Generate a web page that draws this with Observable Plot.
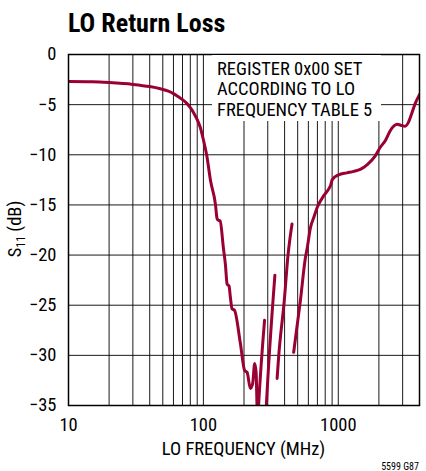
<!DOCTYPE html>
<html>
<head>
<meta charset="utf-8">
<script src="https://cdn.jsdelivr.net/npm/d3@7"></script>
<script src="https://cdn.jsdelivr.net/npm/@observablehq/plot@0.6"></script>
<style>
  body { margin: 0; background: #fff; }
  #chart svg { display: block; }
</style>
</head>
<body>
<div id="chart"></div>
<script>
// ---- Data ----
const title = "LO Return Loss";
const noteLines = ["REGISTER 0x00 SET", "ACCORDING TO LO", "FREQUENCY TABLE 5"];
const xLabel = "LO FREQUENCY (MHz)";
const figCode = "5599 G87";

const xTickValues = [10, 100, 1000];
const yTickValues = [0, -5, -10, -15, -20, -25, -30, -35];
const xGridValues = [10, 20, 30, 40, 50, 60, 70, 80, 90,
                     100, 200, 300, 400, 500, 600, 700, 800, 900,
                     1000, 2000, 3000, 4000];

// Band 1 (low band, dips below the axis and comes back up)
const band1Freq = [10, 15, 20, 30, 40, 48, 55, 60, 65, 70, 75, 80, 85, 90, 95, 100, 106, 113, 123, 126, 128, 133, 141, 145.5, 150, 155, 158.5, 163, 170, 188, 202, 211, 223, 232, 240, 246, 250, 253, 256, 284];
const band1S11 = [-2.69, -2.72, -2.8, -2.98, -3.2, -3.42, -3.65, -3.9, -4.2, -4.5, -4.85, -5.3, -5.85, -6.5, -7.3, -8.5, -10.1, -12.6, -15.0, -16.3, -16.5, -16.6, -19.4, -20.9, -22.9, -23.1, -24.2, -25.35, -25.5, -28.8, -31.5, -31.7, -33.3, -32.8, -30.8, -31.7, -35.2, -36.5, -35.2, -26.5];

// Band 2
const band2Freq = [290, 293, 339];
const band2S11 = [-36.2, -35.0, -22.0];

// Band 3
const band3Freq = [352, 361, 398, 424, 454];
const band3S11 = [-32.3, -30.2, -24.5, -20.0, -16.9];

// Band 4 (high band, to 4 GHz)
const band4Freq = [467, 524, 570, 590, 621, 660, 700, 778, 850, 880, 900, 1005, 1159, 1300, 1455, 1633, 1880, 2048, 2230, 2427, 2600, 2721, 2900, 3133, 3316, 3500, 3715, 4000];
const band4S11 = [-29.7, -24.5, -20.3, -19.2, -17.3, -16.2, -15.2, -14.1, -13.4, -13.0, -12.5, -12.0, -11.8, -11.65, -11.45, -11.0, -10.1, -9.25, -8.6, -7.6, -7.1, -6.95, -7.05, -7.15, -6.75, -5.9, -4.9, -4.0];

// ---- Build table ----
const bands = [[band1Freq, band1S11], [band2Freq, band2S11], [band3Freq, band3S11], [band4Freq, band4S11]];
const data = bands.flatMap(([fs, ss], i) => fs.map((f, j) => ({band: i + 1, f, s: ss[j]})));

const FONT = '"Liberation Sans Narrow", "Roboto Condensed", "Arial Narrow", sans-serif';
const RED = "#990033";

const plot = Plot.plot({
  width: 426,
  height: 471,
  marginLeft: 68,
  marginRight: 7,
  marginTop: 54,
  marginBottom: 66,
  style: {fontFamily: FONT, fontSize: "18.5px", color: "#000", background: "#fff"},
  x: {type: "log", domain: [10, 4000], ticks: xTickValues, tickFormat: d => String(d), tickSize: 0, tickPadding: 12, label: null},
  y: {domain: [-35, 0], ticks: yTickValues, tickSize: 0, tickPadding: 12, label: null},
  marks: [
    Plot.ruleX(xGridValues, {stroke: "#000", strokeWidth: 1, strokeOpacity: 0.9}),
    Plot.ruleY(yTickValues, {stroke: "#000", strokeWidth: 1, strokeOpacity: 0.9}),
    Plot.line(data, {x: "f", y: "s", z: "band", stroke: RED, strokeWidth: 3, curve: "monotone-x", clip: true}),
    Plot.frame({stroke: "#000", strokeWidth: 1.5})
  ]
});

document.getElementById("chart").appendChild(plot);

// ---- Extra text / annotation ----
const svg = d3.select(plot);

// note box (white background covering grid)
const note = svg.append("g").attr("font-family", FONT).attr("font-size", "18.5px").attr("text-anchor", "start");
note.append("rect").attr("x", 212).attr("y", 55).attr("width", 169).attr("height", 66).attr("fill", "#fff");
noteLines.forEach((t, i) => {
  note.append("text").attr("x", 217).attr("y", 75 + i * 20.4).attr("fill", "#000").attr("text-anchor", "start").text(t);
});

// title
svg.append("text")
  .attr("x", 68).attr("y", 32)
  .attr("text-anchor", "start")
  .attr("font-family", FONT).attr("font-size", "26px").attr("font-weight", "bold")
  .attr("fill", "#000")
  .text(title);

// y-axis label with subscript
const yl = svg.append("text")
  .attr("transform", "translate(21,229) rotate(-90)")
  .attr("text-anchor", "middle")
  .attr("font-family", FONT).attr("font-size", "18.5px").attr("fill", "#000");
yl.append("tspan").text("S");
yl.append("tspan").attr("font-size", "12px").attr("dy", "4").text("11");
yl.append("tspan").attr("dy", "-4").text(" (dB)");

// x-axis label
svg.append("text")
  .attr("x", 243.5).attr("y", 455)
  .attr("text-anchor", "middle")
  .attr("font-family", FONT).attr("font-size", "18.5px").attr("fill", "#000")
  .text(xLabel);

// figure code
svg.append("text")
  .attr("x", 419).attr("y", 470)
  .attr("text-anchor", "end")
  .attr("font-family", FONT).attr("font-size", "10px").attr("fill", "#000")
  .text(figCode);
</script>
</body>
</html>
